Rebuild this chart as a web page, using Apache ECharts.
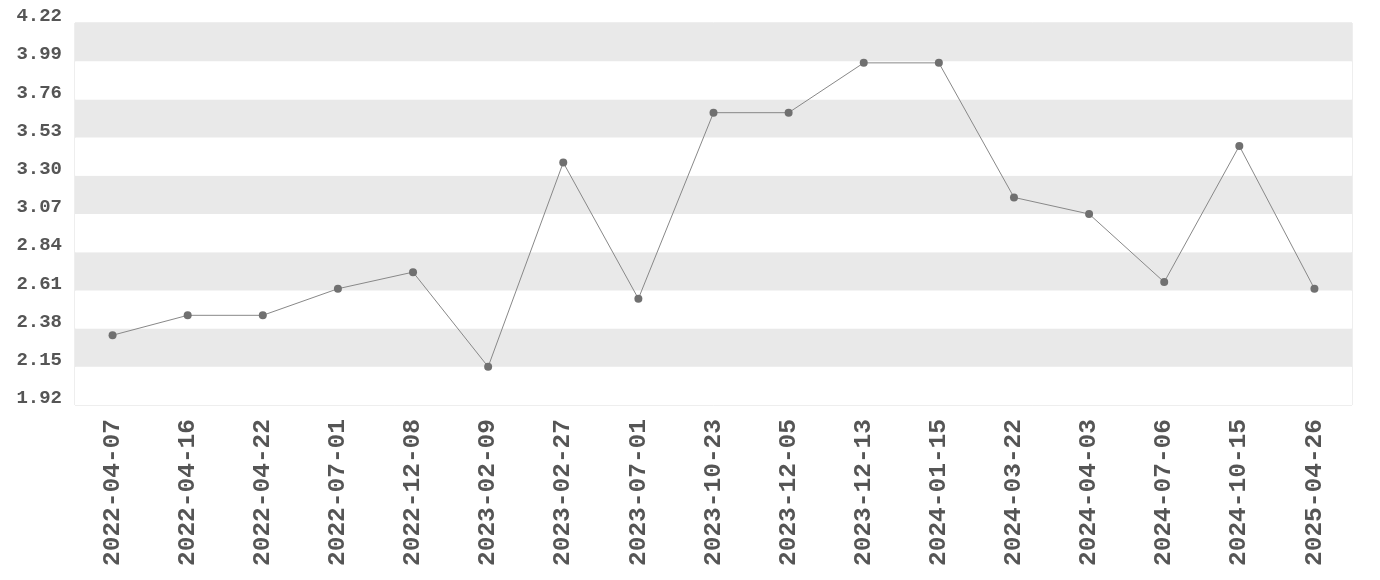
<!DOCTYPE html>
<html>
<head>
<meta charset="utf-8">
<script src="https://cdn.jsdelivr.net/npm/echarts@6/dist/echarts.min.js"></script>
<style>
  html, body { margin: 0; padding: 0; background: #fff; }
  #chart { width: 1380px; height: 580px; }
</style>
</head>
<body>
<div id="chart"></div>
<script>
const dates = [
  "2022-04-07", "2022-04-16", "2022-04-22", "2022-07-01", "2022-12-08",
  "2023-02-09", "2023-02-27", "2023-07-01", "2023-10-23", "2023-12-05",
  "2023-12-13", "2024-01-15", "2024-03-22", "2024-04-03", "2024-07-06",
  "2024-10-15", "2025-04-26"
];
const values = [
  2.34, 2.46, 2.46, 2.62, 2.72,
  2.15, 3.38, 2.56, 3.68, 3.68,
  3.98, 3.98, 3.17, 3.07, 2.66,
  3.48, 2.62
];
const yMin = 1.92;
const yMax = 4.22;
const yStep = 0.23;

const chart = echarts.init(document.getElementById("chart"));
chart.setOption({
  animation: false,
  grid: {
    left: 75,
    right: 28,
    top: 23,
    bottom: 175,
    show: true,
    borderColor: "#dddddd",
    borderWidth: 1,
  },
  xAxis: {
    type: "category",
    data: dates,
    boundaryGap: true,
    axisLine: { show: false },
    axisTick: { show: false },
    axisLabel: {
      rotate: 90,
      interval: 0,
      margin: 14,
      color: "#555555",
      fontFamily: "Liberation Mono",
      fontWeight: "bold",
      fontSize: 24.5,
    },
  },
  yAxis: {
    type: "value",
    min: yMin,
    max: yMax,
    interval: yStep,
    axisLine: { show: false },
    axisTick: { show: false },
    splitLine: { show: false },
    splitArea: {
      show: true,
      areaStyle: { color: ["#ffffff", "#e9e9e9"] },
    },
    axisLabel: {
      margin: 13,
      verticalAlign: "bottom",
      lineHeight: 13,
      color: "#555555",
      fontFamily: "Liberation Mono",
      fontWeight: "bold",
      fontSize: 19,
      formatter: (v) => v.toFixed(2),
    },
  },
  series: [
    {
      type: "line",
      data: values,
      symbol: "circle",
      symbolSize: 8,
      lineStyle: { color: "#888888", width: 1 },
      itemStyle: { color: "#707070" },
    },
  ],
});
</script>
</body>
</html>
